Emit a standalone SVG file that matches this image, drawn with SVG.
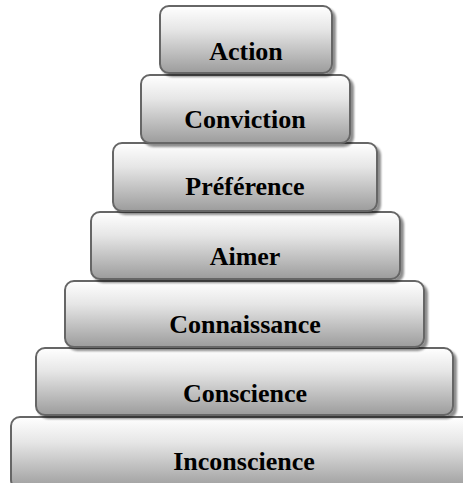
<svg xmlns="http://www.w3.org/2000/svg" width="463" height="483" viewBox="0 0 463 483">
  <defs>
    <linearGradient id="step-fill" x1="0" y1="0" x2="0" y2="1">
      <stop offset="0" stop-color="#ffffff"/>
      <stop offset="0.35" stop-color="#e6e6e6"/>
      <stop offset="1" stop-color="#9c9c9c"/>
    </linearGradient>
    <filter id="drop" x="-5%" y="-10%" width="115%" height="130%">
      <feGaussianBlur in="SourceAlpha" stdDeviation="1.2"/>
      <feOffset dx="3" dy="3" result="b"/>
      <feComponentTransfer><feFuncA type="linear" slope="0.45"/></feComponentTransfer>
      <feMerge><feMergeNode/><feMergeNode in="SourceGraphic"/></feMerge>
    </filter>
    <style>
      .step rect { fill: url(#step-fill); stroke: #666666; stroke-width: 2; filter: url(#drop); }
      .step text { font-family: "Liberation Serif", "Times New Roman", serif; font-weight: bold; font-size: 26px; fill: #000000; text-anchor: middle; }
    </style>
  </defs>
  <rect width="463" height="483" fill="#ffffff"/>

  <!-- pyramid levels, drawn from the base upward -->
  <g id="inconscience" class="step">
    <rect x="11" y="417" width="462" height="72" rx="9"/>
    <text x="244" y="470">Inconscience</text>
  </g>
  <g id="conscience" class="step">
    <rect x="36" y="348" width="417" height="67" rx="9"/>
    <text x="245" y="402">Conscience</text>
  </g>
  <g id="connaissance" class="step">
    <rect x="65" y="281" width="359" height="66" rx="9"/>
    <text x="245" y="333">Connaissance</text>
  </g>
  <g id="aimer" class="step">
    <rect x="91" y="212" width="309" height="67" rx="9"/>
    <text x="245" y="265">Aimer</text>
  </g>
  <g id="preference" class="step">
    <rect x="113" y="143" width="264" height="68" rx="9"/>
    <text x="245" y="195">Préférence</text>
  </g>
  <g id="conviction" class="step">
    <rect x="141" y="75" width="209" height="68" rx="9"/>
    <text x="245" y="128">Conviction</text>
  </g>
  <g id="action" class="step">
    <rect x="160" y="6" width="172" height="67" rx="9"/>
    <text x="246" y="60">Action</text>
  </g>

  <g id="connectors"/>
</svg>
